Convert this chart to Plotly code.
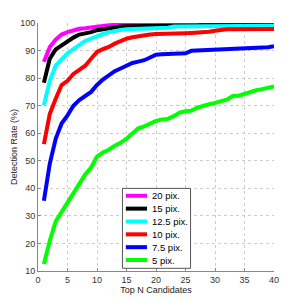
import plotly.graph_objects as go

top_n = list(range(1, 41))

labels = ["20 pix.", "15 pix.", "12.5 pix.", "10 pix.", "7.5 pix.", "5 pix."]
colors = ["#ff00ff", "#000000", "#00ffff", "#ff0000", "#0000ff", "#00ff00"]

rate_20 = [85.9, 91.3, 94.0, 95.8, 96.7, 97.4, 97.9, 98.1, 98.4, 98.8,
           99.0, 99.2, 99.3, 99.4, 99.5, 99.5, 99.5, 99.5, 99.5, 99.6,
           99.6, 99.6, 99.6, 99.6, 99.7, 99.7, 99.7, 99.7, 99.7, 99.7,
           99.7, 99.7, 99.7, 99.7, 99.7, 99.7, 99.7, 99.7, 99.7, 99.7]
rate_15 = [78.3, 87.1, 90.4, 91.9, 93.5, 94.7, 95.8, 96.1, 96.7, 97.4,
           97.7, 98.2, 98.6, 98.7, 98.8, 98.8, 98.9, 98.9, 99.0, 99.0,
           99.0, 99.0, 99.1, 99.1, 99.1, 99.1, 99.1, 99.2, 99.2, 99.2,
           99.2, 99.2, 99.2, 99.2, 99.2, 99.2, 99.2, 99.2, 99.2, 99.2]
rate_12_5 = [70.2, 79.0, 84.5, 87.0, 89.0, 90.5, 92.0, 93.5, 94.3, 95.2,
             96.0, 96.6, 97.2, 97.5, 97.7, 97.8, 97.9, 98.0, 98.0, 98.0,
             98.0, 98.3, 98.7, 98.7, 98.7, 98.7, 98.7, 98.7, 98.7, 98.7,
             98.8, 98.8, 99.0, 99.0, 99.0, 99.0, 99.0, 99.0, 99.0, 99.0]
rate_10 = [56.0, 67.0, 72.5, 77.5, 79.0, 81.5, 83.0, 84.5, 87.0, 89.5,
           90.5, 91.3, 92.5, 93.5, 94.3, 94.8, 95.2, 95.5, 95.8, 96.0,
           96.0, 96.1, 96.1, 96.2, 96.3, 96.4, 96.5, 96.6, 96.8, 97.2,
           97.6, 97.7, 97.7, 97.7, 97.7, 97.8, 97.8, 97.8, 97.8, 97.8]
rate_7_5 = [35.5, 49.0, 58.0, 63.5, 66.5, 70.0, 72.0, 73.5, 75.0, 77.5,
            79.5, 81.0, 82.5, 83.5, 84.5, 85.5, 86.0, 86.5, 87.5, 88.5,
            88.7, 88.8, 88.8, 88.9, 89.0, 89.9, 90.0, 90.1, 90.2, 90.4,
            90.5, 90.6, 90.7, 90.7, 90.7, 90.7, 90.8, 90.9, 91.2, 91.6]
rate_5 = [12.5, 21.0, 28.0, 31.5, 35.0, 38.5, 41.5, 45.0, 47.5, 51.5,
          53.0, 54.0, 55.5, 56.5, 58.0, 60.0, 61.8, 62.5, 63.5, 64.5,
          65.0, 65.2, 66.2, 67.5, 68.0, 68.2, 69.3, 70.0, 70.5, 71.0,
          71.5, 72.2, 73.5, 73.6, 74.3, 75.0, 75.6, 76.0, 76.5, 77.0]

series = [rate_20, rate_15, rate_12_5, rate_10, rate_7_5, rate_5]

x_ticks = [0, 5, 10, 15, 20, 25, 30, 35, 40]
y_ticks = [10, 20, 30, 40, 50, 60, 70, 80, 90, 100]

# page body adds an 8px offset; lay out in window pixel coordinates
OFF = 8
W, H = 299 - OFF, 301 - OFF
PL, PR, PT, PB = 37.5, 274.5, 22.7, 271.0   # plot area in window pixels
ML, MT = PL - OFF, PT - OFF
MR = W - (PR - OFF)
MB = H - (PB - OFF)

fig = go.Figure()
for lab, col, ys in zip(labels, colors, series):
    fig.add_trace(go.Scatter(x=top_n, y=ys, mode="lines", name=lab,
                             line=dict(color=col, width=4), showlegend=False))

pw = PR - PL
ph = PB - PT
def px(xp):
    return (xp - PL) / pw
def py(yp):
    return (PB - yp) / ph

shapes = [dict(type="rect", xref="paper", yref="paper",
               x0=px(122.3), x1=px(190.7), y0=py(268.3), y1=py(188.3),
               line=dict(color="#555555", width=1), fillcolor="white", layer="above")]
annotations = []
for i, (lab, col) in enumerate(zip(labels, colors)):
    yc = 195.7 + i * 12.86
    shapes.append(dict(type="line", xref="paper", yref="paper",
                       x0=px(125.7), x1=px(147), y0=py(yc), y1=py(yc),
                       line=dict(color=col, width=4), layer="above"))
    annotations.append(dict(xref="paper", yref="paper", x=px(149.5), y=py(yc),
                            text=lab, showarrow=False, xanchor="left", yanchor="middle",
                            font=dict(size=9.5, color="#000000", family="Liberation Sans, Arial")))

fig.update_layout(
    width=W, height=H,
    margin=dict(l=ML, r=MR, t=MT, b=MB, autoexpand=False),
    paper_bgcolor="white", plot_bgcolor="white",
    font=dict(family="Liberation Sans, Arial", size=9, color="#333333"),
    shapes=shapes, annotations=annotations,
)
fig.update_xaxes(range=[0, 40], tickvals=x_ticks, showgrid=True,
                 gridcolor="#cccccc", griddash="dot", gridwidth=1,
                 showline=True, linecolor="#888888", linewidth=1,
                 ticks="inside", ticklen=3, tickcolor="#888888", zeroline=False,
                 title=dict(text="Top N Candidates", standoff=0, font=dict(size=9, color="#222222")),
                 tickfont=dict(size=9, color="#333333"))
fig.update_yaxes(range=[10, 100], tickvals=y_ticks, showgrid=True,
                 gridcolor="#cccccc", griddash="dot", gridwidth=1,
                 showline=True, linecolor="#888888", linewidth=1,
                 ticks="inside", ticklen=3, tickcolor="#888888", zeroline=False,
                 title=dict(text="Detection Rate (%)", standoff=1, font=dict(size=9, color="#222222")),
                 tickfont=dict(size=9, color="#333333"))

fig.write_html("out.html")
